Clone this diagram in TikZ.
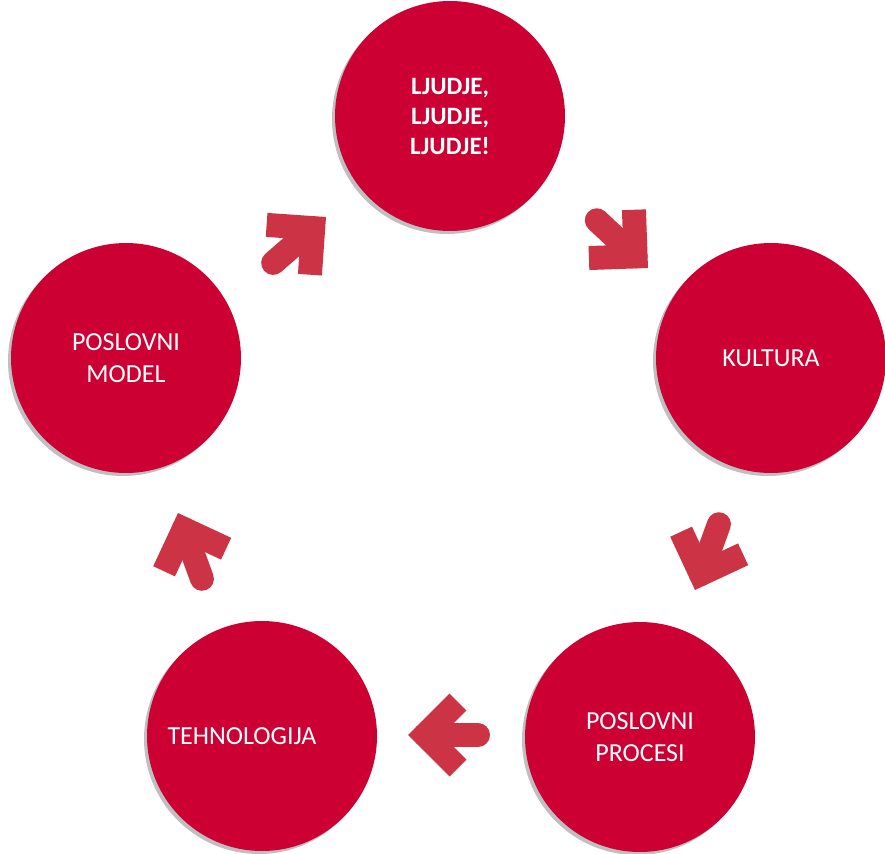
\documentclass[tikz,border=0pt]{standalone}
\usepackage{fontspec}
\setmainfont{Carlito}
\usetikzlibrary{shadows}
\definecolor{ringred}{RGB}{204,0,51}
\definecolor{arrowred}{RGB}{204,51,68}
\tikzset{
	stage/.style={circle, fill=ringred, minimum size=230pt, inner sep=0pt, text=white, align=center,
		font=\fontsize{26}{32}\selectfont,
		drop shadow={shadow xshift=-3pt, shadow yshift=-3pt, fill=black, opacity=.25}},
	cycarrow/.pic={
		\draw[arrowred, line width=24pt, line cap=round] (-17,0) -- (-70,0);
		\draw[arrowred, line width=24pt, line join=miter] (-50,33) -- (-17,0) -- (-50,-33);
	}
}

\begin{document}
\begin{tikzpicture}[x=1pt, y=-1pt]
		\useasboundingbox[fill=white] (0,0) rectangle (885,853);
		\node (people)[stage, font=\fontsize{25}{30}\bfseries] at(450,116) {LJUDJE,\\LJUDJE,\\LJUDJE!};
		\node (culture)[stage] at(771,358) {KULTURA};
		\node (processes)[stage] at(640,737) {POSLOVNI\\PROCESI};
		\node (tech)[stage, label={[text=white, font=\fontsize{26}{32}\selectfont, xshift=-20pt]center:TEHNOLOGIJA}] at(262,736) {};
		\node (model)[stage] at(126,358) {POSLOVNI\\MODEL};
		\pic[rotate=41] at(326,217) {cycarrow};
		\pic[rotate=-43] at(648,268) {cycarrow};
		\pic[rotate=-110] at(695,590) {cycarrow};
		\pic[rotate=180] at(408,735) {cycarrow};
		\pic[rotate=110] at(178,513) {cycarrow};
	\end{tikzpicture}
\end{document}
